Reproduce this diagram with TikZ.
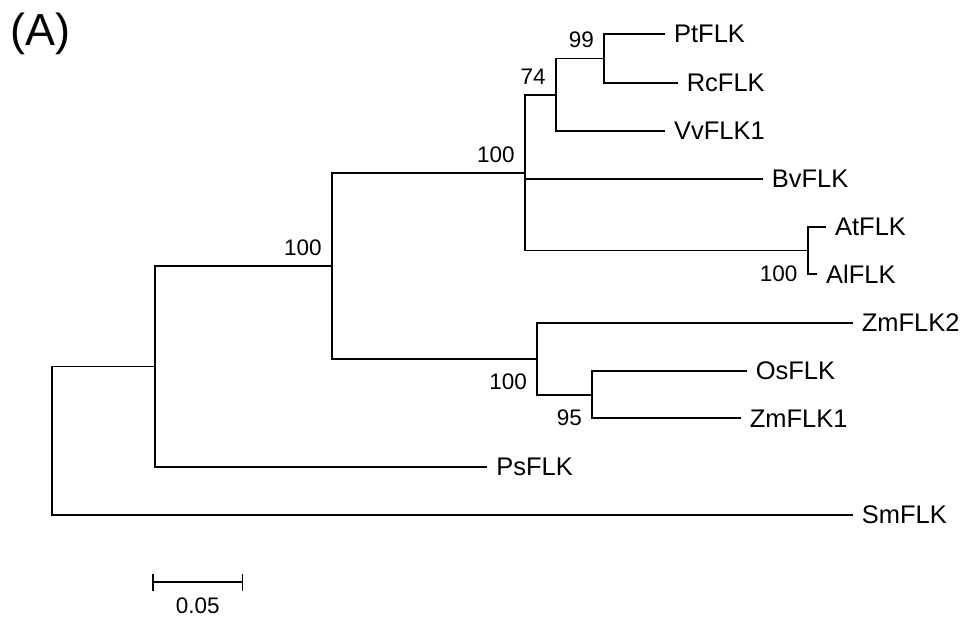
\documentclass[tikz,border=0pt]{standalone}
\usepackage{fontspec}
\setmainfont{Liberation Sans}
\usetikzlibrary{positioning}
\usetikzlibrary{arrows.meta}

\begin{document}
\begin{tikzpicture}[x=0.02cm, y=-0.02cm, line width=1pt,
        every node/.style={font=\fontsize{14.5}{16}\selectfont},
        taxon/.style={anchor=west, inner sep=0pt, inner xsep=0.165cm},
        bsup/.style={anchor=south east, inner sep=0pt, xshift=-0.19cm, yshift=0.19cm, font=\fontsize{12.8}{14}\selectfont},
        bsdown/.style={anchor=north east, inner sep=0pt, xshift=-0.19cm, yshift=-0.29cm, font=\fontsize{12.8}{14}\selectfont}]
            \useasboundingbox (0,0) rectangle (964,619);
            \node[anchor=base west, inner sep=0pt, font=\fontsize{25.6}{28}\selectfont] (panel) at (9.5,45.7) {(A)};
            % inner nodes of the tree
            \coordinate (n0) at (52.3,440.5);
            \coordinate (n1) at (155,366.5);
            \coordinate (n2) at (332,265.7);
            \coordinate (n3) at (525,172.8);
            \coordinate (n4) at (537.3,358.7);
            \coordinate (n5) at (556,94.7);
            \coordinate (n6) at (807.7,250.5);
            \coordinate (n7) at (604.3,58.5);
            \coordinate (n8) at (592.3,394.7);
            % taxa
            \node[taxon] (pt) at (665,34.3) {PtFLK};
            \node[taxon] (rc) at (677.7,82.7) {RcFLK};
            \node[taxon] (vv) at (665,130.7) {VvFLK1};
            \node[taxon] (bv) at (762.7,179) {BvFLK};
            \node[taxon] (at) at (826,226.7) {AtFLK};
            \node[taxon] (al) at (817,274) {AlFLK};
            \node[taxon] (zm2) at (852.7,322.7) {ZmFLK2};
            \node[taxon] (os) at (746.7,370.7) {OsFLK};
            \node[taxon] (zm1) at (740.7,418.3) {ZmFLK1};
            \node[taxon] (ps) at (487.3,466.7) {PsFLK};
            \node[taxon] (sm) at (852.7,515) {SmFLK};
            % branches
            \draw (pt.west) -| (n7) |- (rc.west);
            \draw (n7) -| (n5) |- (vv.west);
            \draw (at.west) -| (n6) |- (al.west);
            \draw (n5) -| (n3) |- (n6);
            \draw (n3) |- (bv.west);
            \draw (os.west) -| (n8) |- (zm1.west);
            \draw (zm2.west) -| (n4) |- (n8);
            \draw (n3) -| (n2) |- (n4);
            \draw (n2) -| (n1) |- (ps.west);
            \draw (n1) -| (n0) |- (sm.west);
            % bootstrap values
            \node[bsup] (b2) at (n2) {100};
            \node[bsup] (b3) at (n3) {100};
            \node[bsup] (b5) at (n5) {74};
            \node[bsup] (b7) at (n7) {99};
            \node[bsdown] (b6) at (n6) {100};
            \node[bsdown] (b4) at (n4) {100};
            \node[bsdown] (b8) at (n8) {95};
            % scale bar
            \coordinate (s1) at (152.3,582);
            \coordinate (s2) at (243.3,582);
            \coordinate (sc) at (197.8,582);
            \draw[{Bar[width=0.34cm]}-{Bar[width=0.34cm]}] (s1) -- (s2);
            \node[inner sep=0pt, below=0.29cm of sc, font=\fontsize{12.8}{14}\selectfont] (scale) {0.05};
        \end{tikzpicture}
\end{document}
